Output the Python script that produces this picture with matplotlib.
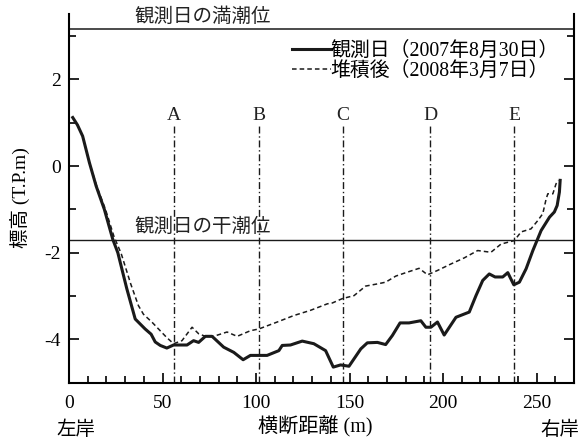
import numpy as np
import matplotlib
matplotlib.use('Agg')
import matplotlib.pyplot as plt
from matplotlib.ticker import MultipleLocator

plt.rcParams['font.family'] = ['Liberation Serif', 'Noto Sans CJK JP']
plt.rcParams['axes.unicode_minus'] = False

# cross-section profile, observation day (2007/8/30)
x_obs = [2.0, 4.5, 7.3, 10.9, 14.5, 18.9, 23.4, 26.1, 30.9, 35.4, 40.7, 43.9, 46.1,
         48.8, 52.3, 55.9, 63.1, 66.6, 69.3, 72.9, 76.5, 82.7, 88.1, 93.1, 97.0,
         105.9, 112.2, 114.0, 118.4, 124.7, 130.9, 137.2, 141.3, 145.2, 149.7,
         156.0, 159.5, 164.9, 169.3, 172.9, 177.0, 181.8, 188.1, 190.8, 193.5,
         197.0, 200.6, 206.9, 214.0, 217.6, 221.2, 224.7, 227.8, 231.9, 234.6,
         237.8, 240.8, 244.4, 248.0, 252.4, 256.9, 259.5, 261.0, 262.2, 262.6]
z_obs = [1.12, 0.95, 0.69, 0.08, -0.46, -1.0, -1.69, -2.0, -2.83, -3.53, -3.76, -3.88,
         -4.06, -4.14, -4.2, -4.13, -4.13, -4.03, -4.07, -3.93, -3.93, -4.18, -4.3,
         -4.47, -4.37, -4.37, -4.26, -4.14, -4.13, -4.04, -4.1, -4.26, -4.64, -4.59,
         -4.62, -4.22, -4.08, -4.07, -4.12, -3.91, -3.62, -3.62, -3.57, -3.72, -3.72,
         -3.6, -3.9, -3.49, -3.37, -2.99, -2.64, -2.49, -2.56, -2.56, -2.46, -2.74,
         -2.68, -2.37, -1.95, -1.49, -1.18, -1.06, -0.91, -0.6, -0.33]

# after deposition (2008/3/7)
x_dep = [2.0, 4.5, 7.3, 10.9, 14.8, 19.5, 24.0, 27.9, 33.0, 37.1, 39.8, 44.3, 52.3,
         55.9, 60.4, 65.8, 69.3, 72.9, 77.3, 84.5, 89.9, 97.0, 101.5, 111.3, 120.2,
         129.1, 138.1, 140.8, 146.1, 152.4, 158.6, 164.9, 169.3, 174.7, 180.1, 187.2,
         191.7, 197.0, 204.2, 211.3, 218.5, 225.6, 231.0, 238.1, 241.7, 247.0, 250.6,
         253.3, 255.1, 256.0, 258.7, 260.4, 261.7]
z_dep = [1.12, 0.95, 0.69, 0.08, -0.46, -1.0, -1.62, -2.02, -2.72, -3.22, -3.42, -3.6,
         -3.96, -4.1, -4.03, -3.72, -3.87, -3.93, -3.93, -3.83, -3.93, -3.8, -3.76,
         -3.6, -3.45, -3.33, -3.18, -3.16, -3.06, -2.99, -2.77, -2.72, -2.68, -2.54,
         -2.46, -2.36, -2.51, -2.41, -2.26, -2.12, -1.95, -1.99, -1.8, -1.72, -1.52,
         -1.45, -1.26, -1.1, -0.76, -0.64, -0.64, -0.41, -0.33]

high_tide = 3.16
low_tide = -1.71
sec_names = ['A', 'B', 'C', 'D', 'E']
sec_x = [56, 101.5, 146.5, 193, 238]

fig = plt.figure(figsize=(5.82, 4.43), dpi=100)
ax = fig.add_axes([69/582, 1-382.7/443, 505/582, 368.3/443])

ax.plot(x_obs, z_obs, color='#1a1a1a', lw=2.2, label='観測日（2007年8月30日）')
ax.plot(x_dep, z_dep, color='#1a1a1a', lw=1.1, ls=(0, (3, 2)),
        label='堆積後（2008年3月7日）')

ax.axhline(high_tide, color='#1a1a1a', lw=1.1)
ax.axhline(low_tide, color='#1a1a1a', lw=1.0)
ax.text(71.3, 3.45, '観測日の満潮位', fontsize=14, ha='center', va='center', color='#222')
ax.text(71.3, -1.41, '観測日の干潮位', fontsize=14, ha='center', va='center', color='#222')

for name, xs in zip(sec_names, sec_x):
    ax.plot([xs, xs], [-5, 0.93], color='#1a1a1a', lw=1.0, ls=(0, (5, 2, 1, 2)))
    ax.text(xs, 1.17, name, fontsize=14, ha='center', va='center', color='#222')

ax.set_xlim(0, 270)
ax.set_ylim(-5, 3.5)
ax.spines['top'].set_visible(False)
for s in ['left', 'right', 'bottom']:
    ax.spines[s].set_linewidth(1.5)

ax.xaxis.set_major_locator(MultipleLocator(50))
ax.xaxis.set_minor_locator(MultipleLocator(10))
ax.yaxis.set_major_locator(MultipleLocator(2))
ax.yaxis.set_minor_locator(MultipleLocator(1))
ax.tick_params(which='both', direction='in', width=1.2, labelsize=14, right=True)
ax.tick_params(which='major', length=7, pad=6)
ax.tick_params(which='minor', length=5)
ax.tick_params(axis='x', pad=9)

leg = ax.legend(loc='upper left', bbox_to_anchor=(292/582, 1-42/443),
                bbox_transform=fig.transFigure, frameon=False, fontsize=14.3,
                handlelength=1.95, handletextpad=0.0, borderpad=0,
                borderaxespad=0, labelspacing=0.05)

fig.text(20/582, 1-198/443, '標高 (T.P.m)', rotation=90, fontsize=14,
         ha='center', va='center')
fig.text(315/582, 1-427/443, '横断距離 (m)', fontsize=14.5, ha='center', va='center')
fig.text(76/582, 1-430/443, '左岸', fontsize=14, ha='center', va='center')
fig.text(560/582, 1-430/443, '右岸', fontsize=14, ha='center', va='center')

fig.savefig('out.png', dpi=100)
